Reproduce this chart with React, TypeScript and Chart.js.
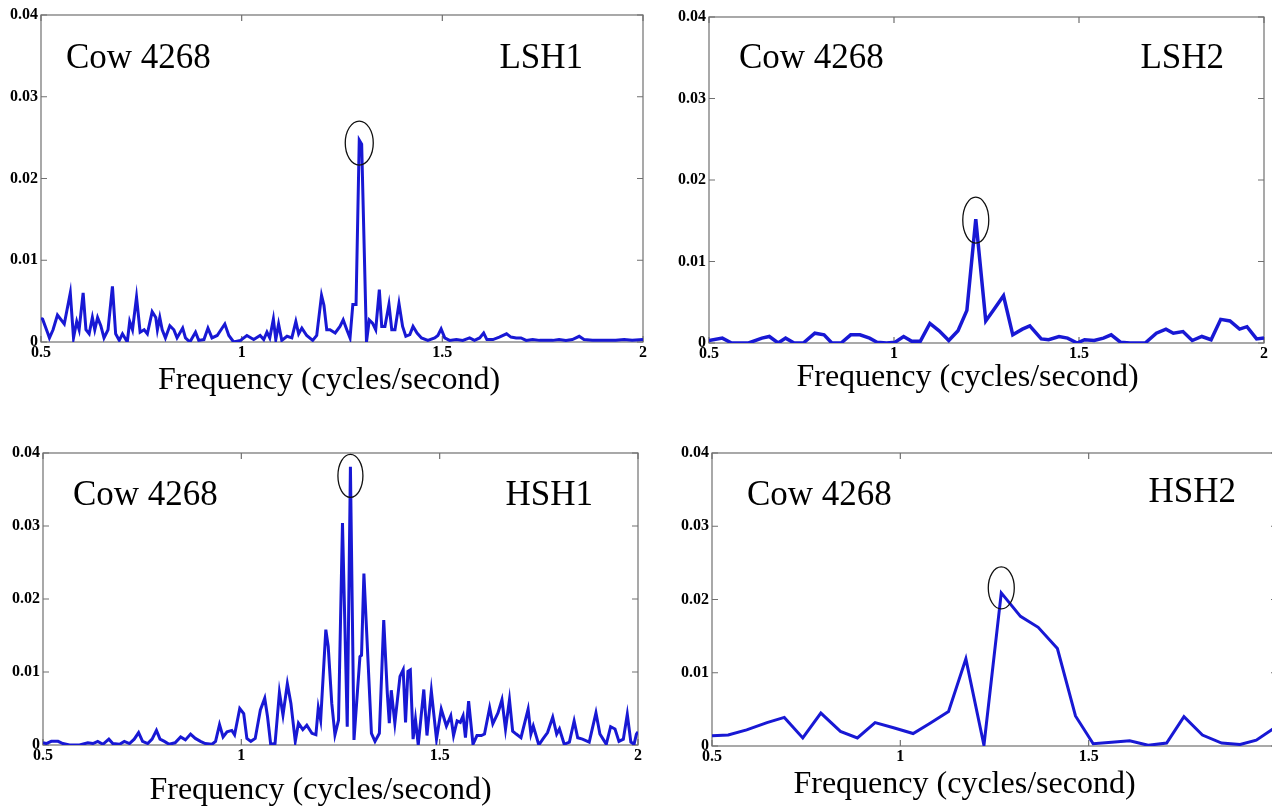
import React, { useEffect, useRef } from 'react';
import { Chart, registerables } from 'chart.js';

Chart.register(...registerables);

// ---------- axis ticks & labels ----------
const xTickValues = [0.5, 1, 1.5, 2];
const yTickValues = [0, 0.01, 0.02, 0.03, 0.04];
const cowLabel = 'Cow 4268';
const xAxisTitle = 'Frequency (cycles/second)';
const panelTags = ['LSH1', 'LSH2', 'HSH1', 'HSH2'];

// ---------- LSH1 (top left) ----------
const lsh1Freq = [
  0.500, 0.504, 0.516, 0.521, 0.530, 0.541, 0.558, 0.573, 0.581, 0.589, 0.595, 0.605, 0.612, 0.620,
  0.628, 0.634, 0.641, 0.649, 0.657, 0.667, 0.678, 0.686, 0.695, 0.703, 0.715, 0.721, 0.728, 0.738,
  0.747, 0.757, 0.765, 0.777, 0.786, 0.790, 0.796, 0.802, 0.810, 0.821, 0.831, 0.839, 0.853, 0.860,
  0.871, 0.885, 0.893, 0.906, 0.916, 0.926, 0.939, 0.958, 0.968, 0.980, 0.997, 1.013, 1.030, 1.046,
  1.055, 1.063, 1.070, 1.079, 1.085, 1.092, 1.100, 1.113, 1.125, 1.135, 1.142, 1.150, 1.162, 1.177,
  1.187, 1.199, 1.205, 1.212, 1.220, 1.233, 1.245, 1.253, 1.262, 1.270, 1.277, 1.285, 1.293, 1.299,
  1.311, 1.318, 1.326, 1.334, 1.343, 1.349, 1.357, 1.367, 1.374, 1.382, 1.392, 1.401, 1.409, 1.419,
  1.427, 1.437, 1.448, 1.464, 1.481, 1.489, 1.497, 1.506, 1.518, 1.535, 1.551, 1.568, 1.580, 1.593,
  1.603, 1.611, 1.626, 1.642, 1.660, 1.671, 1.684, 1.696, 1.709, 1.725, 1.742, 1.758, 1.775, 1.791,
  1.808, 1.824, 1.841, 1.853, 1.874, 1.891, 1.911, 1.932, 1.953, 1.973, 2.000,
];
const lsh1Power = [
  0.0029, 0.0028, 0.0012, 0.0005, 0.0015, 0.0033, 0.0022, 0.0060, 0.0005, 0.0025, 0.0015, 0.0060, 0.0015, 0.0010,
  0.0030, 0.0015, 0.0030, 0.0020, 0.0005, 0.0015, 0.0068, 0.0010, 0.0002, 0.0010, 0.0000, 0.0025, 0.0015, 0.0055,
  0.0012, 0.0015, 0.0010, 0.0037, 0.0030, 0.0015, 0.0030, 0.0015, 0.0005, 0.0020, 0.0015, 0.0005, 0.0017, 0.0005,
  0.0000, 0.0012, 0.0002, 0.0003, 0.0017, 0.0005, 0.0008, 0.0022, 0.0008, 0.0000, 0.0002, 0.0008, 0.0003, 0.0008,
  0.0003, 0.0012, 0.0005, 0.0028, 0.0003, 0.0022, 0.0002, 0.0007, 0.0005, 0.0025, 0.0010, 0.0017, 0.0008, 0.0002,
  0.0008, 0.0057, 0.0045, 0.0015, 0.0015, 0.0011, 0.0019, 0.0027, 0.0015, 0.0005, 0.0046, 0.0046, 0.0247, 0.0242,
  0.0000, 0.0027, 0.0023, 0.0015, 0.0064, 0.0019, 0.0019, 0.0046, 0.0015, 0.0015, 0.0047, 0.0019, 0.0007, 0.0009,
  0.0019, 0.0011, 0.0005, 0.0002, 0.0005, 0.0008, 0.0016, 0.0005, 0.0002, 0.0003, 0.0002, 0.0005, 0.0002, 0.0005,
  0.0011, 0.0003, 0.0003, 0.0006, 0.0010, 0.0006, 0.0005, 0.0005, 0.0002, 0.0003, 0.0002, 0.0002, 0.0002, 0.0003,
  0.0002, 0.0003, 0.0007, 0.0003, 0.0002, 0.0002, 0.0002, 0.0002, 0.0003, 0.0002, 0.0003,
];

// ---------- LSH2 (top right) ----------
const lsh2Freq = [
  0.500, 0.536, 0.561, 0.607, 0.643, 0.663, 0.687, 0.707, 0.730, 0.755, 0.786, 0.811, 0.832, 0.857,
  0.883, 0.908, 0.934, 0.954, 0.980, 1.003, 1.026, 1.048, 1.071, 1.097, 1.122, 1.148, 1.173, 1.197,
  1.221, 1.248, 1.270, 1.296, 1.321, 1.347, 1.367, 1.398, 1.418, 1.446, 1.469, 1.495, 1.515, 1.541,
  1.566, 1.587, 1.612, 1.638, 1.679, 1.709, 1.735, 1.755, 1.781, 1.806, 1.832, 1.857, 1.883, 1.908,
  1.934, 1.954, 1.980, 2.000,
];
const lsh2Power = [
  0.0003, 0.0006, 0.0000, 0.0000, 0.0006, 0.0008, 0.0000, 0.0006, 0.0000, 0.0000, 0.0012, 0.0010, 0.0000, 0.0000,
  0.0010, 0.0010, 0.0006, 0.0001, 0.0000, 0.0001, 0.0008, 0.0002, 0.0002, 0.0024, 0.0015, 0.0003, 0.0015, 0.0040,
  0.0152, 0.0027, 0.0041, 0.0058, 0.0010, 0.0017, 0.0021, 0.0005, 0.0004, 0.0008, 0.0006, 0.0000, 0.0004, 0.0003,
  0.0006, 0.0010, 0.0001, 0.0000, 0.0000, 0.0012, 0.0017, 0.0012, 0.0014, 0.0003, 0.0008, 0.0004, 0.0029, 0.0027,
  0.0017, 0.0020, 0.0005, 0.0006,
];

// ---------- HSH1 (bottom left) ----------
const hsh1Freq = [
  0.500, 0.508, 0.521, 0.538, 0.550, 0.567, 0.592, 0.613, 0.626, 0.638, 0.651, 0.666, 0.676, 0.693,
  0.705, 0.718, 0.730, 0.741, 0.751, 0.764, 0.775, 0.786, 0.795, 0.806, 0.818, 0.833, 0.847, 0.859,
  0.872, 0.884, 0.897, 0.909, 0.926, 0.935, 0.945, 0.954, 0.964, 0.976, 0.983, 0.996, 1.006, 1.014,
  1.024, 1.035, 1.048, 1.059, 1.066, 1.074, 1.085, 1.096, 1.105, 1.116, 1.125, 1.136, 1.144, 1.155,
  1.165, 1.178, 1.188, 1.194, 1.200, 1.213, 1.219, 1.228, 1.236, 1.245, 1.255, 1.267, 1.275, 1.284,
  1.299, 1.303, 1.309, 1.328, 1.337, 1.348, 1.359, 1.368, 1.373, 1.378, 1.387, 1.400, 1.408, 1.414,
  1.420, 1.426, 1.433, 1.439, 1.446, 1.460, 1.468, 1.479, 1.492, 1.504, 1.517, 1.528, 1.535, 1.544,
  1.552, 1.559, 1.565, 1.573, 1.584, 1.594, 1.605, 1.613, 1.626, 1.634, 1.647, 1.657, 1.666, 1.676,
  1.684, 1.693, 1.705, 1.723, 1.730, 1.736, 1.750, 1.760, 1.772, 1.785, 1.795, 1.802, 1.814, 1.827,
  1.839, 1.848, 1.860, 1.877, 1.894, 1.904, 1.912, 1.920, 1.931, 1.942, 1.952, 1.963, 1.973, 1.982,
  1.990, 1.996, 2.000,
];
const hsh1Power = [
  0.0003, 0.0002, 0.0005, 0.0005, 0.0002, 0.0000, 0.0000, 0.0003, 0.0002, 0.0005, 0.0001, 0.0008, 0.0002, 0.0001,
  0.0005, 0.0002, 0.0008, 0.0017, 0.0005, 0.0002, 0.0008, 0.0020, 0.0008, 0.0005, 0.0001, 0.0003, 0.0011, 0.0007,
  0.0015, 0.0009, 0.0005, 0.0002, 0.0001, 0.0005, 0.0028, 0.0011, 0.0018, 0.0020, 0.0014, 0.0050, 0.0043, 0.0009,
  0.0005, 0.0009, 0.0048, 0.0064, 0.0039, 0.0001, 0.0002, 0.0072, 0.0041, 0.0084, 0.0057, 0.0005, 0.0030, 0.0021,
  0.0027, 0.0016, 0.0014, 0.0051, 0.0034, 0.0158, 0.0135, 0.0057, 0.0014, 0.0034, 0.0304, 0.0025, 0.0381, 0.0007,
  0.0121, 0.0123, 0.0235, 0.0016, 0.0005, 0.0016, 0.0171, 0.0071, 0.0030, 0.0075, 0.0030, 0.0094, 0.0103, 0.0031,
  0.0101, 0.0103, 0.0008, 0.0035, 0.0000, 0.0076, 0.0013, 0.0074, 0.0008, 0.0049, 0.0026, 0.0040, 0.0013, 0.0033,
  0.0031, 0.0040, 0.0010, 0.0060, 0.0001, 0.0013, 0.0013, 0.0015, 0.0051, 0.0029, 0.0044, 0.0062, 0.0022, 0.0062,
  0.0019, 0.0015, 0.0010, 0.0049, 0.0015, 0.0026, 0.0000, 0.0008, 0.0017, 0.0038, 0.0015, 0.0022, 0.0001, 0.0004,
  0.0033, 0.0010, 0.0008, 0.0004, 0.0044, 0.0015, 0.0008, 0.0001, 0.0025, 0.0022, 0.0005, 0.0008, 0.0042, 0.0004,
  0.0001, 0.0015, 0.0018,
];

// ---------- HSH2 (bottom right) ----------
const hsh2Freq = [
  0.500, 0.543, 0.592, 0.646, 0.692, 0.741, 0.789, 0.841, 0.886, 0.933, 0.982, 1.034, 1.079, 1.128,
  1.174, 1.222, 1.268, 1.319, 1.366, 1.417, 1.465, 1.512, 1.561, 1.609, 1.658, 1.707, 1.753, 1.802,
  1.853, 1.902, 1.945, 1.994,
];
const hsh2Power = [
  0.0014, 0.0015, 0.0022, 0.0032, 0.0039, 0.0011, 0.0045, 0.0020, 0.0011, 0.0032, 0.0025, 0.0017, 0.0031, 0.0047,
  0.0119, 0.0001, 0.0209, 0.0177, 0.0162, 0.0133, 0.0041, 0.0003, 0.0005, 0.0007, 0.0001, 0.0004, 0.0040, 0.0015,
  0.0004, 0.0002, 0.0008, 0.0025,
];

// ---------- panel layout (page pixels) ----------
type Panel = {
  freq: number[];
  power: number[];
  tag: string;
  area: { left: number; top: number; right: number; bottom: number };
  cow: { dx: number; by: number };
  tagPos: { dr: number; by: number };
  title: { dx: number; dy: number };
  ring: { rx: number; ry: number; dy: number };
  lineWidth: number;
};

const panels: Panel[] = [
  {
    freq: lsh1Freq, power: lsh1Power, tag: panelTags[0],
    area: { left: 41, top: 15, right: 643, bottom: 342 },
    cow: { dx: 25, by: 53 }, tagPos: { dr: 60, by: 53 }, title: { dx: -13, dy: 47 },
    ring: { rx: 14, ry: 22, dy: 3 }, lineWidth: 3,
  },
  {
    freq: lsh2Freq, power: lsh2Power, tag: panelTags[1],
    area: { left: 709, top: 17, right: 1264, bottom: 343 },
    cow: { dx: 30, by: 51 }, tagPos: { dr: 40, by: 51 }, title: { dx: -19, dy: 43 },
    ring: { rx: 13, ry: 23, dy: 1 }, lineWidth: 3.5,
  },
  {
    freq: hsh1Freq, power: hsh1Power, tag: panelTags[2],
    area: { left: 43, top: 453, right: 638, bottom: 745 },
    cow: { dx: 30, by: 52 }, tagPos: { dr: 45, by: 52 }, title: { dx: -20, dy: 54 },
    ring: { rx: 12.5, ry: 21.5, dy: 9 }, lineWidth: 3,
  },
  {
    freq: hsh2Freq, power: hsh2Power, tag: panelTags[3],
    area: { left: 712, top: 453, right: 1277, bottom: 746 },
    cow: { dx: 35, by: 52 }, tagPos: { dr: 41, by: 49 }, title: { dx: -30, dy: 47 },
    ring: { rx: 13, ry: 21, dy: -5 }, lineWidth: 3,
  },
];

const PAD_TOP = 15;
const PAD_RIGHT = 15;
const X_AXIS_H = 65;
const LINE_COLOR = '#1818d4';
const SPINE_COLOR = '#707070';
const SERIF = '"Liberation Serif", "Times New Roman", serif';

function PanelChart({ p }: { p: Panel }) {
  const ref = useRef<HTMLCanvasElement | null>(null);
  const yAxisW = Math.min(45, p.area.left);
  const cLeft = p.area.left - yAxisW;
  const cTop = p.area.top - PAD_TOP;
  const cW = p.area.right - p.area.left + yAxisW + PAD_RIGHT;
  const cH = p.area.bottom - p.area.top + PAD_TOP + X_AXIS_H;

  useEffect(() => {
    if (!ref.current) return;
    const framePlugin = {
      id: 'frame',
      beforeDatasetsDraw(chart: any) {
        const { ctx, chartArea: a, scales } = chart;
        ctx.save();
        ctx.strokeStyle = SPINE_COLOR;
        ctx.lineWidth = 1.2;
        ctx.strokeRect(a.left, a.top, a.right - a.left, a.bottom - a.top);
        const tl = 6;
        ctx.beginPath();
        xTickValues.forEach((v) => {
          const x = scales.x.getPixelForValue(v);
          ctx.moveTo(x, a.bottom); ctx.lineTo(x, a.bottom - tl);
          ctx.moveTo(x, a.top); ctx.lineTo(x, a.top + tl);
        });
        yTickValues.forEach((v) => {
          const y = scales.y.getPixelForValue(v);
          ctx.moveTo(a.left, y); ctx.lineTo(a.left + tl, y);
          ctx.moveTo(a.right, y); ctx.lineTo(a.right - tl, y);
        });
        ctx.stroke();
        ctx.restore();
      },
      afterDraw(chart: any) {
        const { ctx, chartArea: a, scales } = chart;
        ctx.save();
        // ring around the highest peak
        let k = 0;
        p.power.forEach((v, i) => { if (v > p.power[k]) k = i; });
        const cx = scales.x.getPixelForValue(p.freq[k]);
        const cy = scales.y.getPixelForValue(p.power[k]) + p.ring.dy;
        ctx.strokeStyle = '#111';
        ctx.lineWidth = 1.3;
        ctx.beginPath();
        ctx.ellipse(cx, cy, p.ring.rx, p.ring.ry, 0, 0, Math.PI * 2);
        ctx.stroke();
        // text labels
        ctx.fillStyle = '#000';
        ctx.font = `35px ${SERIF}`;
        ctx.textBaseline = 'alphabetic';
        ctx.textAlign = 'left';
        ctx.fillText(cowLabel, a.left + p.cow.dx, a.top + p.cow.by);
        ctx.textAlign = 'right';
        ctx.fillText(p.tag, a.right - p.tagPos.dr, a.top + p.tagPos.by);
        ctx.font = `32px ${SERIF}`;
        ctx.textAlign = 'center';
        ctx.fillText(xAxisTitle, (a.left + a.right) / 2 + p.title.dx, a.bottom + p.title.dy);
        ctx.restore();
      },
    };

    const chart = new Chart(ref.current, {
      type: 'line',
      data: {
        datasets: [
          {
            data: p.freq.map((f, i) => ({ x: f, y: p.power[i] })),
            borderColor: LINE_COLOR,
            borderWidth: p.lineWidth,
            pointRadius: 0,
            tension: 0,
            fill: false,
          },
        ],
      },
      options: {
        responsive: false,
        animation: false,
        events: [],
        layout: { padding: { left: 0, top: PAD_TOP, right: PAD_RIGHT, bottom: 0 } },
        plugins: { legend: { display: false }, tooltip: { enabled: false }, title: { display: false } },
        scales: {
          x: {
            type: 'linear',
            min: 0.5,
            max: 2,
            grid: { display: false, drawTicks: false },
            border: { display: false },
            afterBuildTicks: (s: any) => { s.ticks = xTickValues.map((v) => ({ value: v })); },
            afterFit: (s: any) => { s.height = X_AXIS_H; },
            ticks: {
              padding: 1,
              color: '#000',
              font: { family: SERIF, size: 16, weight: 'bold' },
              maxRotation: 0,
              autoSkip: false,
              callback: (v: any) => String(Number(v)),
            },
          },
          y: {
            type: 'linear',
            min: 0,
            max: 0.04,
            grid: { display: false, drawTicks: false },
            border: { display: false },
            afterBuildTicks: (s: any) => { s.ticks = yTickValues.map((v) => ({ value: v })); },
            afterFit: (s: any) => { s.width = yAxisW; },
            ticks: {
              padding: 3,
              color: '#000',
              font: { family: SERIF, size: 16, weight: 'bold' },
              autoSkip: false,
              callback: (v: any) => (Number(v) === 0 ? '0' : Number(v).toFixed(2)),
            },
          },
        },
      },
      plugins: [framePlugin],
    } as any);
    return () => chart.destroy();
  }, []);

  return (
    <canvas
      ref={ref}
      width={cW}
      height={cH}
      style={{ position: 'absolute', left: cLeft, top: cTop, width: cW, height: cH }}
    />
  );
}

export default function App() {
  return (
    <div
      style={{
        position: 'absolute',
        left: 0,
        top: 0,
        width: 1272,
        height: 809,
        overflow: 'hidden',
        background: '#fff',
      }}
    >
      {panels.map((p, i) => (
        <PanelChart key={i} p={p} />
      ))}
    </div>
  );
}
